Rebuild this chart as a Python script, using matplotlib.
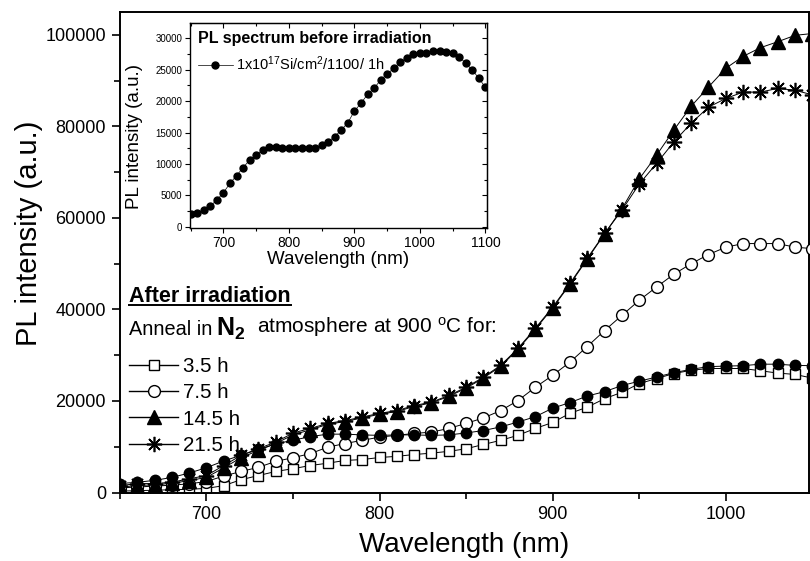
import matplotlib
matplotlib.use("Agg")
import matplotlib.pyplot as plt
from matplotlib.lines import Line2D
from matplotlib.ticker import MultipleLocator

plt.rcParams["font.family"] = ["Liberation Sans", "DejaVu Sans"]
plt.rcParams["mathtext.fontset"] = "custom"
plt.rcParams["mathtext.rm"] = "Liberation Sans"
plt.rcParams["mathtext.bf"] = "Liberation Sans:bold"
plt.rcParams["mathtext.it"] = "Liberation Sans:italic"

# wavelengths of the annealed samples (nm)
wavelength = [650, 660, 670, 680, 690, 700, 710, 720, 730, 740,
              750, 760, 770, 780, 790, 800, 810, 820, 830, 840,
              850, 860, 870, 880, 890, 900, 910, 920, 930, 940,
              950, 960, 970, 980, 990, 1000, 1010, 1020, 1030, 1040, 1050]

pl_3_5h = [300, 400, 500, 600, 700, 900, 1500, 2800, 3700, 4600,
           5200, 5900, 6400, 7000, 7200, 7650, 7900, 8300, 8600, 9000,
           9550, 10500, 11400, 12500, 14000, 15300, 17300, 18650, 20500, 21900,
           23800, 24900, 26000, 26700, 27100, 27100, 27100, 26600, 26100, 25800, 25000]

pl_7_5h = [1000, 1200, 1400, 1600, 1900, 2400, 3600, 4600, 5500, 6800,
           7600, 8500, 9900, 10700, 11400, 12100, 12500, 12900, 13200, 14000,
           15100, 16300, 17900, 20100, 23000, 25600, 28500, 31900, 35400, 38700,
           42000, 44900, 47700, 50000, 52000, 53600, 54400, 54400, 54400, 53600, 53300]

pl_14_5h = [1200, 1500, 1700, 2000, 2600, 3300, 5400, 7600, 9200, 10700,
            12600, 13700, 14900, 15500, 16300, 17100, 17700, 18800, 19600, 21000,
            22800, 25000, 27600, 31300, 35700, 40300, 45500, 51000, 56500, 62000,
            68500, 73700, 79200, 84400, 88600, 92700, 95300, 97200, 98500, 99900, 100300]

pl_21_5h = [1500, 1950, 1950, 2250, 3000, 3700, 5900, 8100, 9600, 11000,
            13000, 14000, 15100, 15700, 16500, 17300, 17900, 19000, 19750, 21200,
            23000, 25200, 27800, 31500, 35900, 40500, 45700, 51200, 56600, 61700,
            67400, 71900, 76600, 80700, 84200, 86100, 87500, 87500, 88300, 87900, 86900]

# spectrum before irradiation (inset, also shown in main panel)
wl_before = [650, 660, 670, 680, 690, 700, 710, 720, 730, 740,
             750, 760, 770, 780, 790, 800, 810, 820, 830, 840,
             850, 860, 870, 880, 890, 900, 910, 920, 930, 940,
             950, 960, 970, 980, 990, 1000, 1010, 1020, 1030, 1040,
             1050, 1060, 1070, 1080, 1090, 1100]
pl_before = [1960, 2230, 2650, 3290, 4250, 5420, 6900, 8130, 9400, 10620,
             11420, 12210, 12750, 12750, 12590, 12480, 12590, 12590, 12480, 12590,
             13010, 13540, 14340, 15400, 16570, 18430, 19650, 21080, 22040, 23370,
             24320, 25230, 26180, 26920, 27510, 27620, 27720, 28040, 28040, 27770,
             27720, 27080, 26020, 24960, 23630, 22200]

labels = ["3.5 h", "7.5 h", "14.5 h", "21.5 h"]
star = (8, 2, 0)

fig = plt.figure(figsize=(8.1, 5.61), dpi=100)
ax = fig.add_axes([0.148, 0.1221, 0.8506, 0.8565])

ax.plot(wavelength, pl_3_5h, color="black", lw=0.7, marker="s", ms=7.5,
        mfc="white", mec="black", mew=1.0, zorder=2)
ax.plot(wavelength, pl_7_5h, color="black", lw=0.7, marker="o", ms=8.5,
        mfc="white", mec="black", mew=1.0, zorder=3)
ax.plot(wl_before, pl_before, color="black", lw=0.7, marker="o", ms=7.5,
        mfc="black", mec="black", zorder=4)
ax.plot(wavelength, pl_14_5h, color="black", lw=0.7, marker="^", ms=10,
        mfc="black", mec="black", zorder=5)
ax.plot(wavelength, pl_21_5h, color="black", lw=0.7, marker=star, ms=11,
        mec="black", mew=1.2, zorder=6)

ax.set_xlim(650, 1048)
ax.set_ylim(0, 105000)
ax.xaxis.set_major_locator(MultipleLocator(100))
ax.xaxis.set_minor_locator(MultipleLocator(50))
ax.yaxis.set_major_locator(MultipleLocator(20000))
ax.yaxis.set_minor_locator(MultipleLocator(10000))
ax.tick_params(which="both", direction="out", top=False, right=False,
               labelsize=13, width=1.2, pad=4)
ax.tick_params(which="major", length=6)
ax.tick_params(which="minor", length=4)
for s in ax.spines.values():
    s.set_linewidth(1.4)
ax.set_xlabel("Wavelength (nm)", fontsize=20, labelpad=6)
ax.set_ylabel("PL intensity (a.u.)", fontsize=21)
ax.yaxis.set_label_coords(-0.112, 0.54)

# annotation block
t_after = ax.text(0.0131, 0.3965, "After irradiation", transform=ax.transAxes,
                  fontsize=15.5, fontweight="bold", va="baseline")
t1 = ax.text(0.0131, 0.327, "Anneal in", transform=ax.transAxes,
             fontsize=14.3, va="baseline")
t2 = ax.annotate(r"$\mathbf{N_2}$", xy=(1, 0), xycoords=t1, xytext=(3, -2),
                 textcoords="offset points", fontsize=18, va="bottom")
ax.annotate(r"atmosphere at 900 $^{\mathrm{o}}$C for:", xy=(1, 0), xycoords=t2,
            xytext=(8, 2), textcoords="offset points", fontsize=15, va="bottom")

handles = [
    Line2D([], [], color="black", lw=1, marker="s", ms=7.5, mfc="white", mew=1.0),
    Line2D([], [], color="black", lw=1, marker="o", ms=8.5, mfc="white", mew=1.0),
    Line2D([], [], color="black", lw=1, marker="^", ms=10, mfc="black"),
    Line2D([], [], color="black", lw=1, marker=star, ms=11, mew=1.2),
]
ax.legend(handles, labels, loc="upper left", bbox_to_anchor=(0.0131, 0.2826),
          frameon=False, fontsize=14.8, handlelength=2.4, handletextpad=0.25,
          labelspacing=0.36, borderpad=0, borderaxespad=0)

# inset
axin = fig.add_axes([0.2346, 0.5931, 0.3663, 0.3654])
axin.plot(wl_before, pl_before, color="black", lw=0.5, marker="o", ms=5,
          label=r"1x10$^{17}$Si/cm$^{2}$/1100/ 1h")
axin.set_xlim(649, 1102)
axin.set_ylim(-255, 32400)
axin.xaxis.set_major_locator(MultipleLocator(100))
axin.xaxis.set_minor_locator(MultipleLocator(50))
axin.yaxis.set_major_locator(MultipleLocator(5000))
axin.yaxis.set_minor_locator(MultipleLocator(2500))
axin.tick_params(which="both", direction="out", width=0.8)
axin.tick_params(which="major", length=3.5)
axin.tick_params(which="minor", length=2)
axin.tick_params(axis="x", labelsize=10, pad=2)
axin.tick_params(axis="y", labelsize=7, pad=2)
for s in axin.spines.values():
    s.set_linewidth(1.0)
top = axin.secondary_xaxis("top")
top.xaxis.set_major_locator(MultipleLocator(100))
top.xaxis.set_minor_locator(MultipleLocator(50))
top.tick_params(which="both", direction="in", labeltop=False, width=0.8)
top.tick_params(which="major", length=3.5)
top.tick_params(which="minor", length=2)
right = axin.secondary_yaxis("right")
right.yaxis.set_major_locator(MultipleLocator(5000))
right.yaxis.set_minor_locator(MultipleLocator(2500))
right.tick_params(which="both", direction="in", labelright=False, width=0.8)
right.tick_params(which="major", length=3.5)
right.tick_params(which="minor", length=2)
axin.set_xlabel("Wavelength (nm)", fontsize=13.5, labelpad=1)
axin.set_ylabel("PL intensity (a.u.)", fontsize=13.5)
axin.yaxis.set_label_coords(-0.16, 0.45)
axin.text(0.026, 0.904, "PL spectrum before irradiation", transform=axin.transAxes,
          fontsize=11.5, fontweight="bold", va="baseline")
axin.legend(loc="upper left", bbox_to_anchor=(0.026, 0.846), frameon=False,
            fontsize=10.5, handlelength=2.4, handletextpad=0.25,
            borderpad=0, borderaxespad=0)

# underline for the "After irradiation" heading
fig.canvas.draw()
bb = t_after.get_window_extent()
inv = fig.transFigure.inverted()
(x0, y0), (x1, _) = inv.transform([(bb.x0, bb.y0 + 2), (bb.x1, bb.y0 + 2)])
fig.add_artist(Line2D([x0, x1], [y0, y0], color="black", lw=1.4,
                      transform=fig.transFigure))

fig.savefig("out.png", dpi=100)
